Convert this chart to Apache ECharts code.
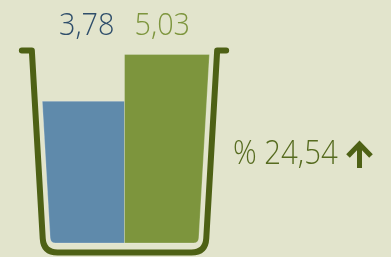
<!DOCTYPE html>
<html>
<head>
<meta charset="utf-8">
<script src="https://cdn.jsdelivr.net/npm/echarts@6/dist/echarts.min.js"></script>
<style>
html, body { margin: 0; padding: 0; background: #e2e4cc; }
#chart { width: 391px; height: 257px; }
</style>
</head>
<body>
<div id="chart"></div>
<script>
var categories = ['Önceki', 'Sonraki'];
var values = [3.78, 5.03];
var changeText = '% 24,54';
var barColors = ['#5f8aab', '#7d953d'];
var labelColors = ['#2f4e6b', '#7d953d'];

var cupColor = '#4e6115';
var flare = 0.058; // how much the cup walls lean out per pixel of height
var font = '"Open Sans", sans-serif';

function fmt(v) {
    return v.toFixed(2).replace('.', ',');
}

var chart = echarts.init(document.getElementById('chart'));

function renderBar(params, api) {
    var i = params.dataIndex;
    var top = api.coord([i, api.value(1)]);
    var base = api.coord([i, 0]);
    var bw = api.size([1, 0])[0];
    var yT = top[1], yB = base[1];
    var r = 5;
    var side = i === 0 ? -1 : 1;
    var xm = base[0] - side * bw / 2;          // middle of the cup
    var xo = base[0] + side * bw / 2;          // outer edge at the bottom
    var xoT = xo + side * flare * (yB - yT);   // outer edge at the top
    var d = 'M' + xoT + ' ' + yT +
        ' L' + xm + ' ' + yT +
        ' L' + xm + ' ' + yB +
        ' L' + (xo - side * r) + ' ' + yB +
        ' Q' + xo + ' ' + yB + ' ' + (xo + side * flare * r) + ' ' + (yB - r) + ' Z';
    return {
        type: 'group',
        children: [{
            type: 'path',
            shape: { pathData: d },
            style: { fill: barColors[i], stroke: 'rgba(255,255,255,0.22)', lineWidth: 1 }
        }, {
            type: 'text',
            x: xm + side * 10,
            y: 26,
            scaleX: 0.93,
            style: {
                text: fmt(api.value(1)),
                fill: labelColors[i],
                font: '300 31px ' + font,
                align: i === 0 ? 'right' : 'left',
                verticalAlign: 'middle'
            }
        }]
    };
}

function renderCup(params, api) {
    var base = api.coord([0, 0]);
    var bw = api.size([1, 0])[0];
    var xc = base[0] + bw / 2;
    var yB = base[1];
    var hw0 = bw + 7.5;          // wall half-width at the bars' base
    var yLip = yB - 192.5;
    var yBot = yB + 9.5;
    var rad = 14;
    function wx(y, s) { return xc + s * (hw0 + flare * (yB - y)); }
    var d = 'M' + (wx(yLip, -1) - 10) + ' ' + yLip +
        ' L' + wx(yLip, -1) + ' ' + yLip +
        ' L' + wx(yBot - rad, -1) + ' ' + (yBot - rad) +
        ' Q' + wx(yBot, -1) + ' ' + yBot + ' ' + (wx(yBot, -1) + rad) + ' ' + yBot +
        ' L' + (wx(yBot, 1) - rad) + ' ' + yBot +
        ' Q' + wx(yBot, 1) + ' ' + yBot + ' ' + wx(yBot - rad, 1) + ' ' + (yBot - rad) +
        ' L' + wx(yLip, 1) + ' ' + yLip +
        ' L' + (wx(yLip, 1) + 9) + ' ' + yLip;
    return {
        type: 'path',
        shape: { pathData: d },
        style: { fill: null, stroke: cupColor, lineWidth: 6, lineCap: 'round', lineJoin: 'round' }
    };
}

chart.setOption({
    backgroundColor: '#e2e4cc',
    animation: false,
    grid: { left: 50.5, right: 192.5, top: 18, bottom: 14 },
    xAxis: { type: 'category', data: categories, show: false },
    yAxis: { type: 'value', min: 0, max: 6, show: false },
    graphic: [{
        type: 'text',
        x: 233,
        y: 155,
        scaleX: 0.89,
        style: { text: changeText, fill: '#566b1f', font: '300 33px ' + font, verticalAlign: 'middle' }
    }, {
        // up arrow
        type: 'group',
        children: [{
            type: 'line',
            shape: { x1: 359.5, y1: 168, x2: 359.5, y2: 145 },
            style: { stroke: cupColor, lineWidth: 5 }
        }, {
            type: 'polyline',
            shape: { points: [[348, 156], [359.5, 144], [371, 156]] },
            style: { stroke: cupColor, lineWidth: 5, lineJoin: 'miter' }
        }]
    }],
    series: [{
        type: 'custom',
        renderItem: renderBar,
        data: values.map(function (v, i) { return [i, v]; }),
        encode: { x: 0, y: 1 },
        z: 1
    }, {
        type: 'custom',
        renderItem: renderCup,
        data: [[0, 0]],
        encode: { x: 0, y: 1 },
        z: 2
    }]
});
</script>
</body>
</html>
